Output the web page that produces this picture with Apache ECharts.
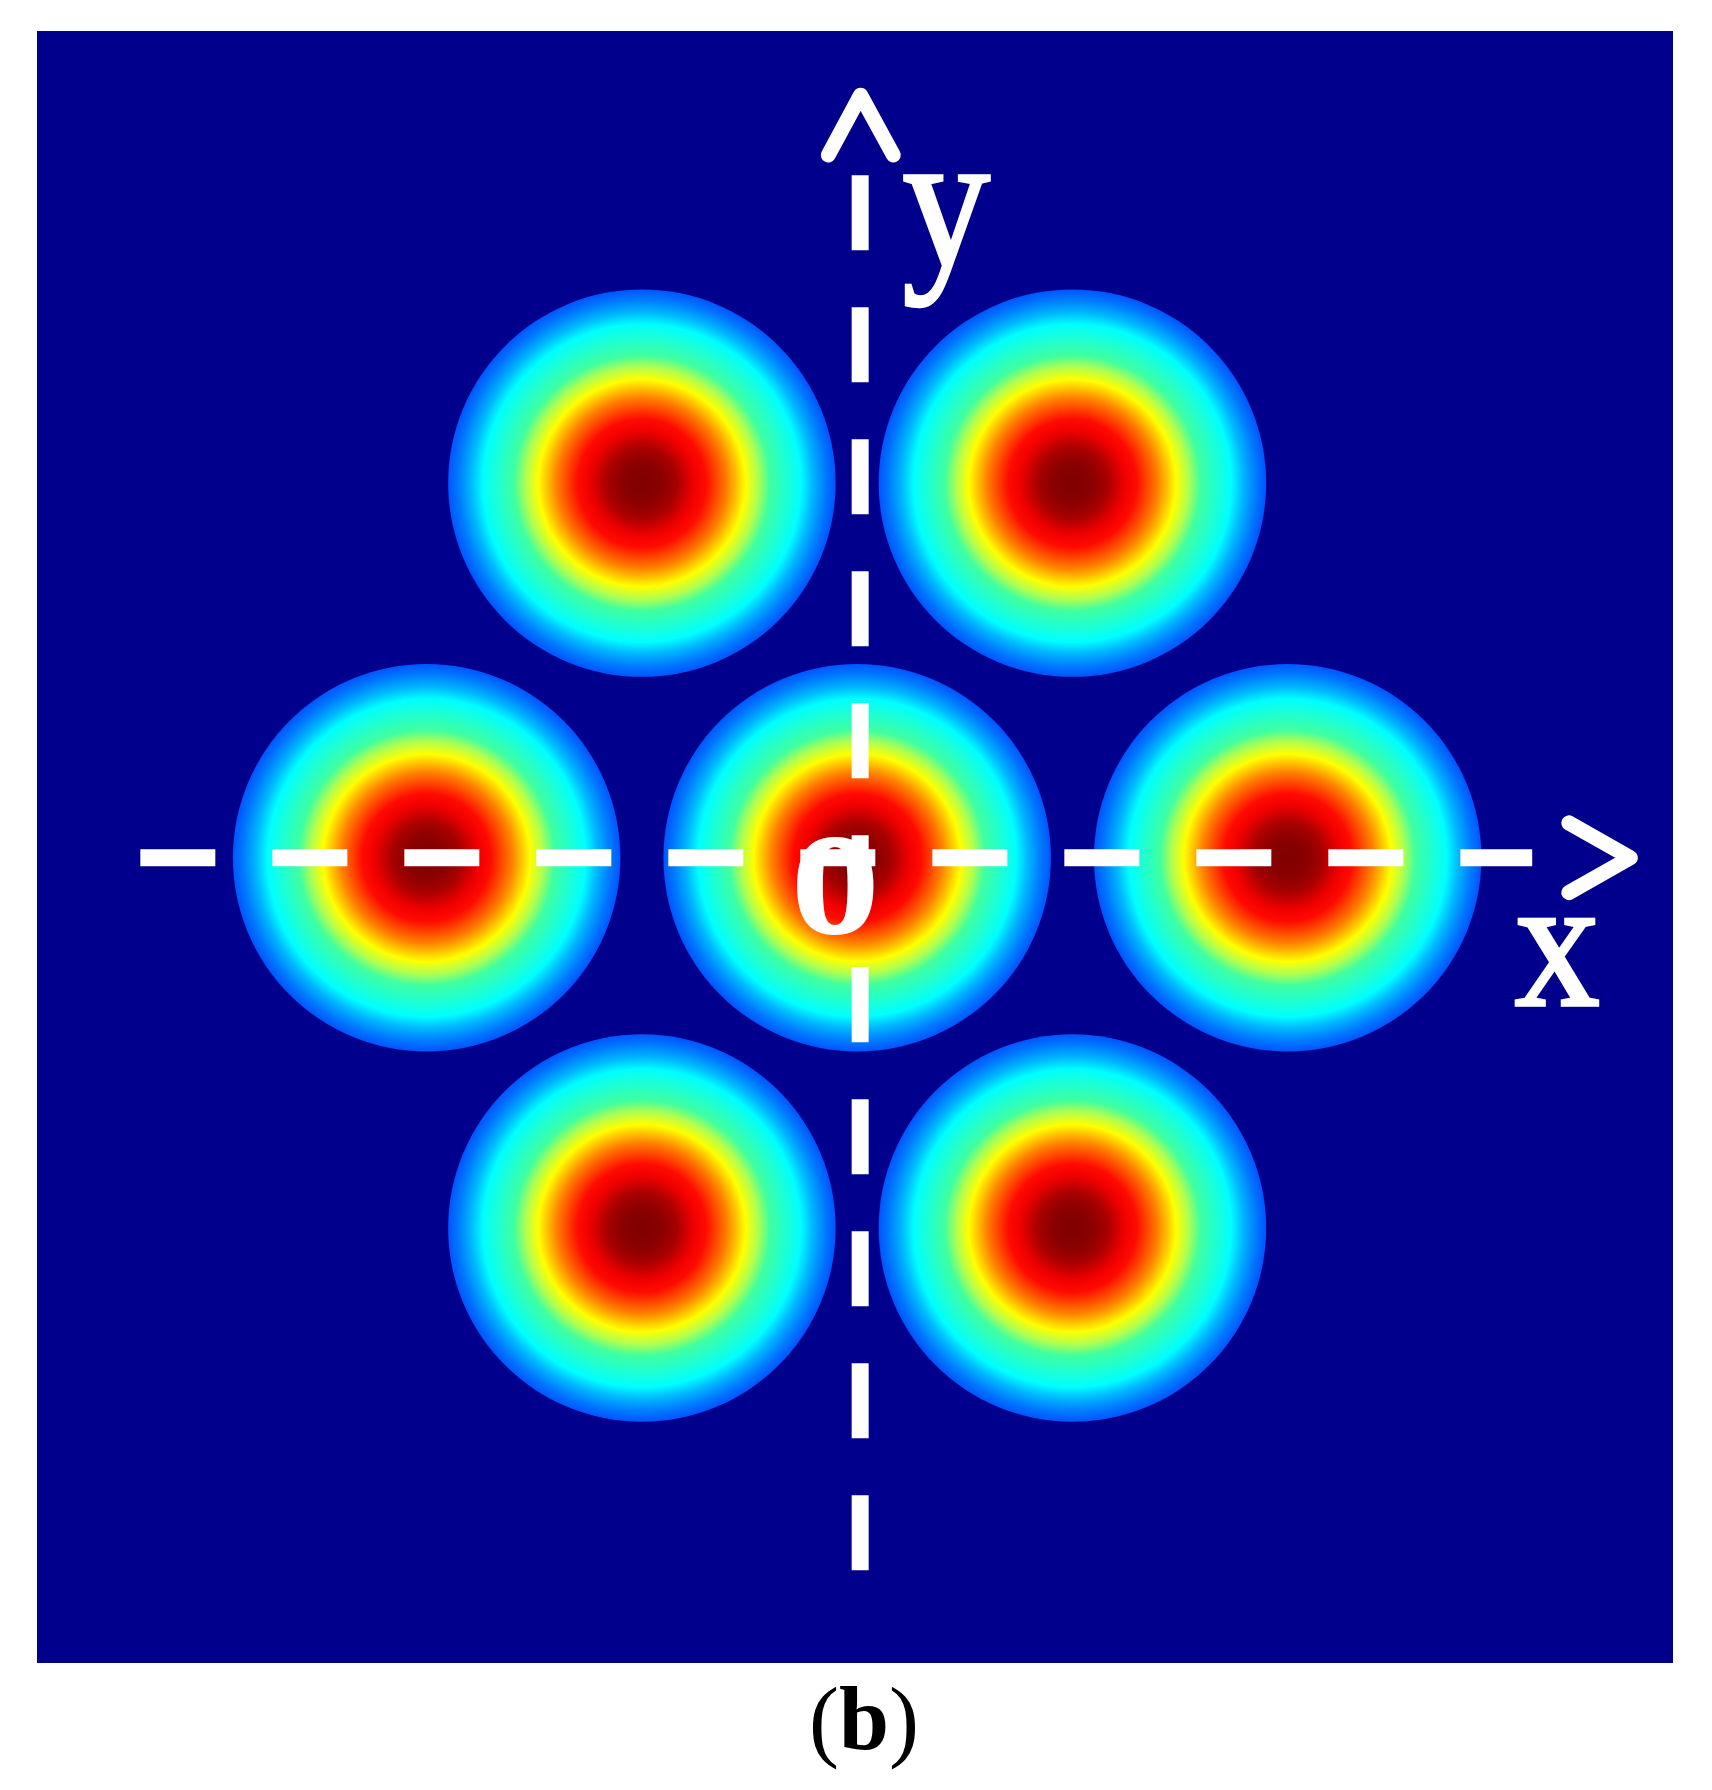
<!DOCTYPE html>
<html>
<head>
<meta charset="utf-8">
<title>Hexagonal beam array (b)</title>
<script src="https://cdn.jsdelivr.net/npm/echarts@6/dist/echarts.min.js"></script>
<style>
  html, body { margin: 0; padding: 0; background: #fff; }
  #chart { width: 1712px; height: 1790px; }
</style>
</head>
<body>
<div id="chart"></div>
<script>
// beam centres, in units of the beam spacing
const beamX = [-0.5, 0.5, -1.0, 0.0, 1.0, -0.5, 0.5];
const beamY = [0.87, 0.87, 0.0, 0.0, 0.0, -0.86, -0.86];
const beamRadius = 0.45;

// colour rings from beam centre (0) to the clipped edge (1)
const ringOffsets = [0, 0.1, 0.18, 0.27, 0.33, 0.44, 0.535, 0.6, 0.66, 0.82, 0.88, 0.95, 1];
const ringColors = ['#800000', '#8a0000', '#a80000', '#f00000', '#ff0a00', '#ff8000',
  '#ffff00', '#b0ff50', '#40ffa0', '#00ffff', '#00b8ff', '#0078ff', '#0055ff'];

// dashed axes + arrow heads
const xAxisLine = [[-1.665, 0], [1.568, 0]];
const yAxisLine = [[0.007, 1.585], [0.007, -1.662]];
const xArrow = [[1.653, 0.081], [1.796, 0], [1.653, -0.081]];
const yArrow = [[-0.067, 1.632], [0.008, 1.771], [0.084, 1.632]];

// axis labels
const labelNames = ['y', 'x', 'o'];
const labelPos = [[0.207, 1.494], [1.626, -0.227], [-0.051, -0.052]];

const SERIF = '"Liberation Serif", "Times New Roman", Times, serif';

const chart = echarts.init(document.getElementById('chart'));

const gradient = {
  type: 'radial', x: 0.5, y: 0.5, r: 0.5,
  colorStops: ringOffsets.map((o, i) => ({ offset: o, color: ringColors[i] }))
};

function dashed(data, id) {
  return {
    id: id, type: 'line', data: data, symbol: 'none', silent: true, z: 5,
    lineStyle: { color: '#fff', width: 17, type: [75, 57], cap: 'butt' }
  };
}
function chevron(data, id) {
  return {
    id: id, type: 'line', data: data, symbol: 'none', silent: true, z: 5,
    lineStyle: { color: '#fff', width: 15, type: 'solid', cap: 'round', join: 'round' }
  };
}

const option = {
  animation: false,
  backgroundColor: '#fff',
  grid: {
    show: true, left: 37, top: 31, width: 1636, height: 1632,
    backgroundColor: '#00008c', borderWidth: 0
  },
  xAxis: { type: 'value', min: -1.905, max: 1.895, show: false },
  yAxis: { type: 'value', min: -1.87, max: 1.92, show: false },
  series: [
    {
      id: 'beams', type: 'scatter', symbol: 'circle', symbolSize: 380, z: 2,
      silent: true,
      data: beamX.map((x, i) => [x, beamY[i]]),
      itemStyle: { color: gradient, opacity: 1 }
    },
    dashed(xAxisLine, 'xline'),
    dashed(yAxisLine, 'yline'),
    chevron(xArrow, 'xarrow'),
    chevron(yArrow, 'yarrow')
  ]
};
chart.setOption(option);

// beam size in pixels from the axis scale
const p0 = chart.convertToPixel({ gridIndex: 0 }, [0, 0]);
const p1 = chart.convertToPixel({ gridIndex: 0 }, [beamRadius, 0]);
const beamSize = 2 * (p1[0] - p0[0]);

const labelStyle = {
  y: { fontSize: 175, fontWeight: 'normal', scaleY: 1.1, border: 3 },
  x: { fontSize: 170, fontWeight: 'normal', scaleY: 1.1, border: 3 },
  o: { fontSize: 180, fontWeight: 'bold', scaleY: 1.13, border: 0 }
};

const labels = labelNames.map((name, i) => {
  const p = chart.convertToPixel({ gridIndex: 0 }, labelPos[i]);
  const s = labelStyle[name];
  return {
    type: 'text', x: p[0], y: p[1], scaleY: s.scaleY, z: 100, silent: true,
    style: {
      text: name, fill: '#fff', fontFamily: SERIF,
      fontSize: s.fontSize, fontWeight: s.fontWeight,
      stroke: s.border ? '#fff' : null, lineWidth: s.border,
      align: 'center', verticalAlign: 'middle'
    }
  };
});

labels.push({
  type: 'text', x: 864, y: 1726, z: 100, silent: true,
  style: {
    text: '{p|(}{b|b}{p|)}', align: 'center', verticalAlign: 'middle',
    rich: {
      p: { fontSize: 90, fontFamily: SERIF, fontWeight: 'normal', fill: '#000' },
      b: { fontSize: 90, fontFamily: SERIF, fontWeight: 'bold', fill: '#000' }
    }
  }
});

chart.setOption({
  series: [{ id: 'beams', symbolSize: beamSize }],
  graphic: labels
});
</script>
</body>
</html>
